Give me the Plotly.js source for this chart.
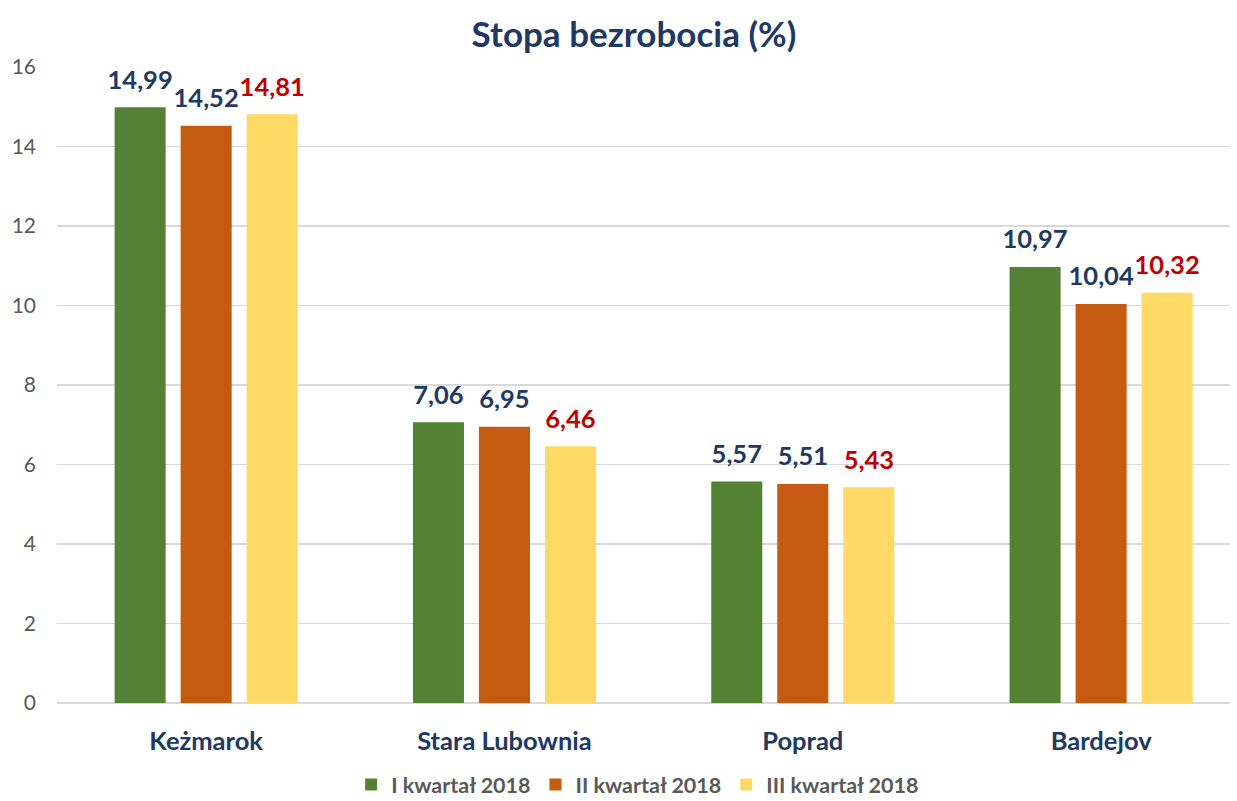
<!DOCTYPE html>
<html>
<head>
<meta charset="utf-8">
<script src="https://cdn.plot.ly/plotly-3.0.1.min.js"></script>
<style>html,body{margin:0;padding:0;background:#fff;}#chart{width:1237px;height:801px;}</style>
</head>
<body>
<div id="chart"></div>
<script>
const categories = ["Keżmarok", "Stara Lubownia", "Poprad", "Bardejov"];
const seriesNames = ["I kwartał 2018", "II kwartał 2018", "III kwartał 2018"];
const q1 = [14.99, 7.06, 5.57, 10.97];
const q2 = [14.52, 6.95, 5.51, 10.04];
const q3 = [14.81, 6.46, 5.43, 10.32];
const yTicks = [0, 2, 4, 6, 8, 10, 12, 14, 16];

const colors = ["#548235", "#C55A11", "#FFD966"];
const labelColors = ["#203864", "#203864", "#C00000"];
const FONT = "Lato, 'Open Sans', sans-serif";
const fmt = v => v.toFixed(2).replace(".", ",");
const series = [q1, q2, q3];

const barTraces = series.map((vals, i) => ({
  type: "bar",
  name: seriesNames[i],
  x: categories,
  y: vals,
  marker: {color: colors[i]},
  hoverinfo: "skip"
}));

const labelTraces = series.map((vals, i) => ({
  type: "scatter",
  mode: "markers+text",
  name: seriesNames[i] + " label",
  showlegend: false,
  x: categories,
  y: vals,
  marker: {size: 18, opacity: 0, color: colors[i]},
  text: vals.map(fmt),
  textposition: "top center",
  cliponaxis: false,
  textfont: {family: FONT, size: 25.5, color: labelColors[i], weight: "bold"},
  hoverinfo: "skip"
}));

const layout = {
  width: 1237, height: 801,
  paper_bgcolor: "#fff", plot_bgcolor: "#fff",
  margin: {l: 57, r: 7, t: 67, b: 98, autoexpand: false},
  title: {text: "<b>Stopa bezrobocia (%)</b>", font: {family: FONT, size: 35, color: "#203864"},
          x: 0.5125, xref: "container", xanchor: "center", y: 0.957, yref: "container", yanchor: "middle"},
  barmode: "group",
  bargap: 0.336,
  bargroupgap: 0.227,
  scattermode: "group",
  scattergap: 0.336,
  xaxis: {
    range: [-0.5, 3.432],
    showgrid: false, zeroline: false, showline: false,
    ticks: "", ticklabelstandoff: 20,
    tickfont: {family: FONT, size: 25.5, color: "#203864", weight: "bold"}
  },
  yaxis: {
    range: [0, 16], tickvals: yTicks, ticktext: yTicks.map(String),
    showgrid: true, gridcolor: "#D9D9D9", gridwidth: 1.5,
    zeroline: true, zerolinecolor: "#D9D9D9", zerolinewidth: 1.5,
    showline: false, ticks: "", ticklabelstandoff: 20,
    tickfont: {family: FONT, size: 21, color: "#595959"}
  },
  showlegend: true,
  legend: {orientation: "h", x: 0.495, xanchor: "center", y: -0.128, yanchor: "middle",
           font: {family: FONT, size: 21.5, color: "#595959", weight: "bold"},
           itemwidth: 30, tracegroupgap: 0},
  font: {family: FONT}
};

Plotly.newPlot("chart", barTraces.concat(labelTraces), layout, {displayModeBar: false, staticPlot: true});
</script>
</body>
</html>
